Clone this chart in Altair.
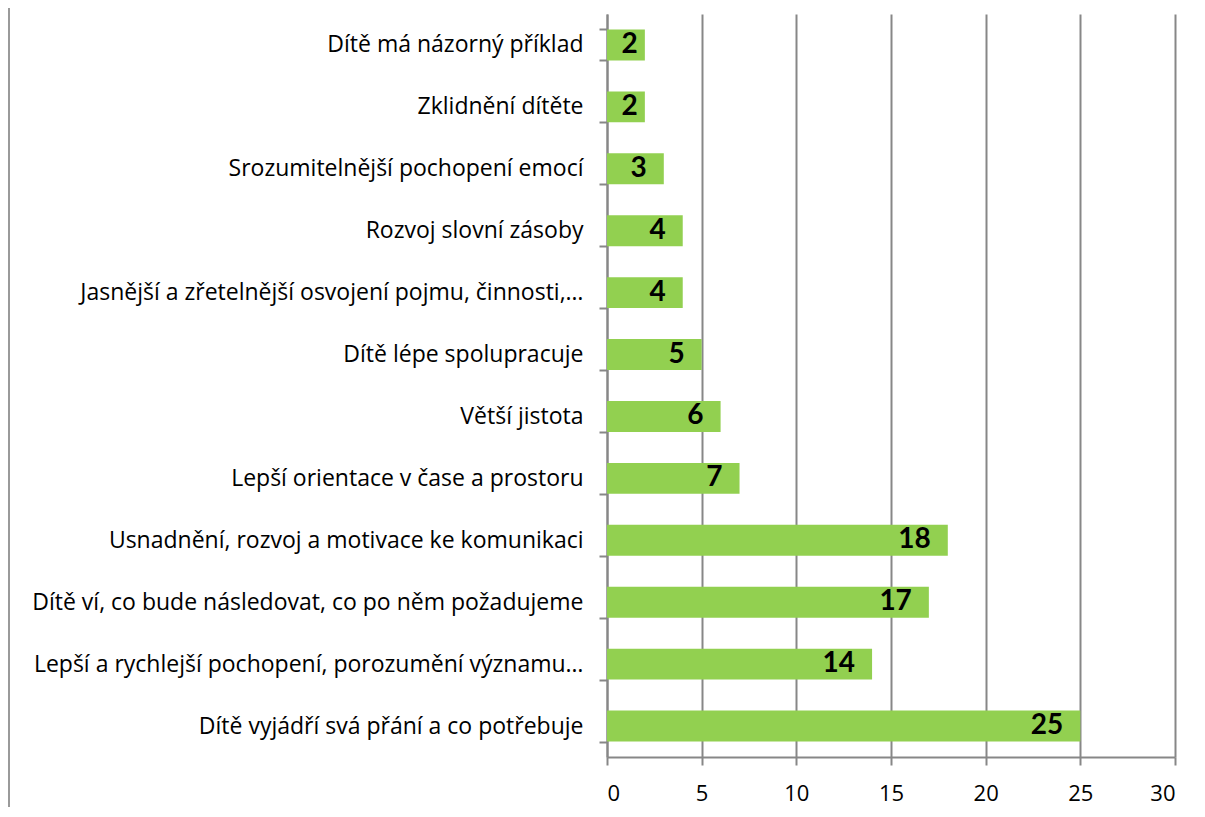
import altair as alt
import pandas as pd

categories = [
    "Dítě má názorný příklad",
    "Zklidnění dítěte",
    "Srozumitelnější pochopení emocí",
    "Rozvoj slovní zásoby",
    "Jasnější a zřetelnější osvojení pojmu, činnosti,…",
    "Dítě lépe spolupracuje",
    "Větší jistota ",
    "Lepší orientace v čase a prostoru",
    "Usnadnění, rozvoj a motivace ke komunikaci",
    "Dítě ví, co bude následovat, co po něm požadujeme",
    "Lepší a rychlejší pochopení, porozumění významu…",
    "Dítě vyjádří svá přání a co potřebuje",
]
values = [2, 2, 3, 4, 4, 5, 6, 7, 18, 17, 14, 25]
x_ticks = [0, 5, 10, 15, 20, 25, 30]

df = pd.DataFrame({"cat": categories, "val": values})

FONT = "Open Sans"
GRID = "#878787"

y_enc = alt.Y(
    "cat:N",
    sort=categories,
    title=None,
    scale=alt.Scale(paddingInner=0.5, paddingOuter=0.25),
    axis=alt.Axis(
        labelFont=FONT, labelFontSize=23, labelColor="#000000", labelLimit=0,
        labelPadding=16, tickSize=8, tickColor=GRID, tickWidth=2, tickBand="extent",
        domainColor=GRID, domainWidth=2, grid=False,
    ),
)
x_enc = alt.X(
    "val:Q",
    title=None,
    scale=alt.Scale(domain=[0, 30], nice=False),
    axis=alt.Axis(
        values=x_ticks, labelFont=FONT, labelFontSize=22, labelColor="#000000",
        labelPadding=18, tickSize=8, tickColor=GRID, tickWidth=2,
        domainColor=GRID, domainWidth=2, grid=True, gridColor=GRID, gridWidth=2,
    ),
)

base = alt.Chart(df)
bars = base.mark_bar(color="#92D050").encode(x=x_enc, y=y_enc)

text_style = dict(align="right", baseline="middle", font="Lato", fontSize=28,
                  fontWeight="bold", color="#000000")
text_enc = dict(x="val:Q", y=alt.Y("cat:N", sort=categories), text="val:Q")

labels_main = base.transform_filter(alt.datum.val > 2).mark_text(
    dx=-17, **text_style).encode(**text_enc)
labels_small = base.transform_filter(alt.datum.val <= 2).mark_text(
    dx=-7, **text_style).encode(**text_enc)

border = alt.Chart(pd.DataFrame({"a": [0]})).mark_rule(
    color="#9a9a9a", strokeWidth=2
).encode(x=alt.value(-598), y=alt.value(-14), y2=alt.value(803))

chart = (
    alt.layer(bars, labels_main, labels_small, border)
    .properties(
        width=568, height=743,
        autosize=alt.AutoSizeParams(type="none"),
        padding={"left": 599, "top": 6, "right": 20, "bottom": 50},
    )
    .configure_view(stroke=None)
)
chart.save("out.html", embed_options={"renderer": "svg", "actions": False})
